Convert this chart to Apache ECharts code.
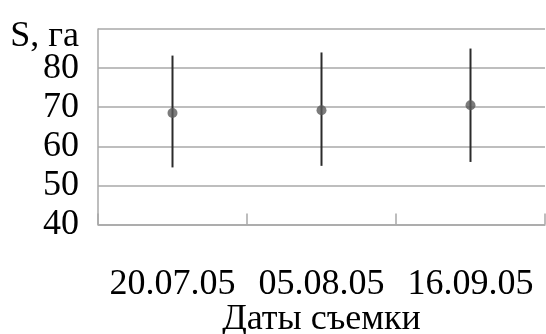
<!DOCTYPE html>
<html>
<head>
<meta charset="utf-8">
<script src="https://cdn.jsdelivr.net/npm/echarts@6/dist/echarts.min.js"></script>
<style>
  html, body { margin: 0; padding: 0; background: #fff; }
  #chart { width: 546px; height: 334px; }
</style>
</head>
<body>
<div id="chart"></div>
<script>
// Survey dates and estimated area (mean with min–max range), hectares
const categories = ['20.07.05', '05.08.05', '16.09.05'];
const means = [68.5, 69.2, 70.5];
const lows = [54.6, 55.0, 56.0];
const highs = [83.2, 84.0, 85.0];
const yTicks = [40, 50, 60, 70, 80, 90];

const FONT = '"Liberation Serif", "DejaVu Serif", serif';
const gridColor = '#a8a8a8';

const chart = echarts.init(document.getElementById('chart'), null, { renderer: 'canvas' });

chart.setOption({
  animation: false,
  backgroundColor: '#fff',
  grid: { left: 98, right: 1, top: 29, bottom: 109.5, containLabel: false, outerBoundsMode: 'none' },
  xAxis: {
    type: 'category',
    data: categories,
    boundaryGap: true,
    axisLine: { show: true, lineStyle: { color: gridColor, width: 1.5 } },
    axisTick: { show: true, inside: true, length: 11, lineStyle: { color: gridColor, width: 1.5 } },
    axisLabel: { color: '#000', fontFamily: FONT, fontSize: 36, margin: 42, interval: 0, hideOverlap: false },
    name: 'Даты съемки',
    nameLocation: 'middle',
    nameGap: 77,
    nameMoveOverlap: false,
    nameTextStyle: { color: '#000', fontFamily: FONT, fontSize: 36 }
  },
  yAxis: {
    type: 'value',
    min: yTicks[0],
    max: yTicks[yTicks.length - 1],
    interval: 10,
    axisLine: { show: true, lineStyle: { color: gridColor, width: 1.5 } },
    axisTick: { show: false },
    splitLine: { show: true, lineStyle: { color: gridColor, width: 1.5 } },
    name: 'S, га',
    nameLocation: 'end',
    nameGap: -8,
    nameMoveOverlap: false,
    nameTextStyle: {
      color: '#000', fontFamily: FONT, fontSize: 36,
      align: 'right', verticalAlign: 'middle', padding: [0, 19, 0, 0]
    },
    axisLabel: {
      color: '#000', fontFamily: FONT, fontSize: 36, margin: 19, interval: 0,
      showMaxLabel: false, showMinLabel: true, hideOverlap: false,
      formatter: v => (v === 90 ? '' : String(v))
    }
  },
  series: [
    {
      type: 'custom',
      data: categories.map((c, i) => [i, lows[i], highs[i]]),
      renderItem: (params, api) => {
        const lo = api.coord([api.value(0), api.value(1)]);
        const hi = api.coord([api.value(0), api.value(2)]);
        return {
          type: 'line',
          shape: { x1: lo[0], y1: lo[1], x2: hi[0], y2: hi[1] },
          style: { stroke: '#2b2b2b', lineWidth: 2 }
        };
      },
      z: 3
    },
    {
      type: 'scatter',
      data: means,
      symbol: 'circle',
      symbolSize: 10,
      itemStyle: { color: '#5a5a5a' },
      z: 4
    }
  ]
});
</script>
</body>
</html>
